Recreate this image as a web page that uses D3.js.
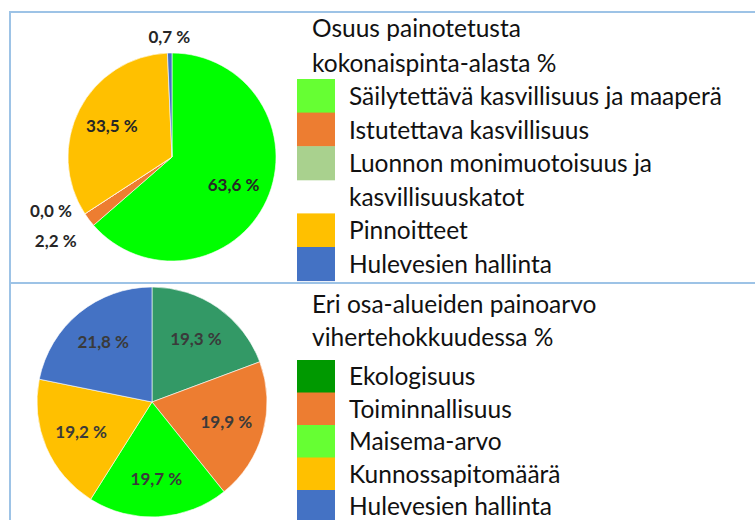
<!DOCTYPE html>
<html>
<head>
<meta charset="utf-8">
<script src="https://cdn.jsdelivr.net/npm/d3@7"></script>
<style>
  html, body { margin: 0; padding: 0; background: #fff; }
  svg { display: block; }
</style>
</head>
<body>
<svg id="chart" width="755" height="520"></svg>
<script>
// ---- Data ---------------------------------------------------------------
// Upper panel: share of the weighted total area (%)
const areaTitle = "Osuus painotetusta kokonaispinta-alasta %";
const areaCategories = [
  "Säilytettävä kasvillisuus ja maaperä",
  "Istutettava kasvillisuus",
  "Luonnon monimuotoisuus ja kasvillisuuskatot",
  "Pinnoitteet",
  "Hulevesien hallinta"
];
const areaValues = [63.6, 2.2, 0.0, 33.5, 0.7];
const areaSliceColors  = ["#00ff00", "#ed7d31", "#a9d18e", "#ffc000", "#4472c4"];
const areaLegendColors = ["#66ff33", "#ed7d31", "#a9d18e", "#ffc000", "#4472c4"];

// Lower panel: weight of each sub-area in the green factor (%)
const weightTitle = "Eri osa-alueiden painoarvo vihertehokkuudessa %";
const weightCategories = [
  "Ekologisuus",
  "Toiminnallisuus",
  "Maisema-arvo",
  "Kunnossapitomäärä",
  "Hulevesien hallinta"
];
const weightValues = [19.3, 19.9, 19.7, 19.2, 21.8];
const weightSliceColors  = ["#339966", "#ed7d31", "#00ff00", "#ffc000", "#4472c4"];
const weightLegendColors = ["#009900", "#ed7d31", "#66ff33", "#ffc000", "#4472c4"];

// ---- Helpers ------------------------------------------------------------
const fiLocale = d3.formatLocale({ decimal: ",", thousands: "\u00a0", grouping: [3], currency: ["", " €"] });
const pct = v => fiLocale.format(".1f")(v) + " %";

const svg = d3.select("#chart");
const FONT = "Lato, 'Open Sans', sans-serif";

// Table-like frame lines
const frameColor = "#9dc3e6";
const frame = svg.append("g").attr("stroke", frameColor).attr("stroke-width", 2);
frame.append("line").attr("x1", 9).attr("x2", 755).attr("y1", 12).attr("y2", 12);
frame.append("line").attr("x1", 10).attr("x2", 10).attr("y1", 11).attr("y2", 520);
frame.append("line").attr("x1", 9).attr("x2", 755).attr("y1", 283).attr("y2", 283);

// Split a string into lines that fit maxWidth at the given font size
function wrapText(text, fontSize, maxWidth) {
  const probe = svg.append("text").attr("font-family", FONT).attr("font-size", fontSize);
  const words = text.split(" ");
  const lines = [];
  let cur = "";
  words.forEach(w => {
    const trial = cur ? cur + " " + w : w;
    probe.text(trial);
    if (cur && probe.node().getComputedTextLength() > maxWidth) {
      lines.push(cur);
      cur = w;
    } else {
      cur = trial;
    }
  });
  if (cur) lines.push(cur);
  probe.remove();
  return lines;
}

function drawPie(cfg) {
  const g = svg.append("g").attr("transform", `translate(${cfg.cx},${cfg.cy})`);
  const pie = d3.pie().sort(null).value(d => d);
  const arcs = pie(cfg.values);
  const arc = d3.arc().innerRadius(0).outerRadius(cfg.r);
  const color = d3.scaleOrdinal().domain(d3.range(cfg.values.length)).range(cfg.colors);

  g.selectAll("path.slice")
    .data(arcs)
    .join("path")
    .attr("class", "slice")
    .attr("d", arc)
    .attr("fill", (d, i) => color(i))
    .attr("stroke", "#ffffff")
    .attr("stroke-width", 0.6);

  // Label placement: inside at a centroid ring, outside for thin slices
  const inner = d3.arc().innerRadius(cfg.r * cfg.labelRing).outerRadius(cfg.r * cfg.labelRing);
  const outer = d3.arc().innerRadius(cfg.r * 1.15).outerRadius(cfg.r * 1.15);
  const labels = arcs.map((d, i) => {
    const small = d.value < cfg.outsideBelow;
    const mid = (d.startAngle + d.endAngle) / 2;
    const [x, y] = (small ? outer : inner).centroid(d);
    let anchor = "middle";
    if (small && Math.abs(Math.sin(mid)) > 0.3) anchor = Math.sin(mid) < 0 ? "end" : "start";
    return { x, y, anchor, small, side: Math.sin(mid) < 0 ? -1 : 1, text: pct(d.value) };
  });

  // Spread overlapping outside labels vertically around their mean
  [-1, 1].forEach(side => {
    const grp = labels.filter(l => l.small && l.anchor !== "middle" && l.side === side)
      .sort((a, b) => a.y - b.y);
    for (let k = 1; k < grp.length; k++) {
      const a = grp[k - 1], b = grp[k];
      if (b.y - a.y < cfg.minGap) {
        const m = (a.y + b.y) / 2;
        a.y = m - cfg.minGap / 2;
        b.y = m + cfg.minGap / 2;
      }
    }
  });

  g.selectAll("text.lbl")
    .data(labels)
    .join("text")
    .attr("class", "lbl")
    .attr("x", d => d.x)
    .attr("y", d => d.y)
    .attr("dy", "0.35em")
    .attr("text-anchor", d => d.anchor)
    .attr("font-family", FONT)
    .attr("font-weight", "bold")
    .attr("font-size", cfg.labelSize)
    .attr("fill", cfg.labelColor)
    .text(d => d.text);
}

function drawLegend(cfg) {
  const g = svg.append("g");
  const titleLines = wrapText(cfg.title, cfg.fontSize, cfg.titleWidth);
  g.selectAll("text.title")
    .data(titleLines)
    .join("text")
    .attr("class", "title")
    .attr("x", cfg.titleX)
    .attr("y", (d, i) => cfg.titleY + i * cfg.titleStep)
    .attr("font-family", FONT)
    .attr("font-size", cfg.fontSize)
    .attr("fill", "#111")
    .text(d => d);

  // Expand each category into wrapped lines; first line carries the swatch
  const rows = [];
  cfg.categories.forEach((c, i) => {
    wrapText(c, cfg.fontSize, cfg.itemWidth).forEach((line, j) => {
      rows.push({ text: line, color: j === 0 ? cfg.colors[i] : null });
    });
  });
  const yLine = d3.scaleLinear().domain([0, 1]).range([cfg.firstY, cfg.firstY + cfg.step]);

  g.selectAll("rect.sw")
    .data(rows.map((r, k) => ({ ...r, k })).filter(r => r.color))
    .join("rect")
    .attr("class", "sw")
    .attr("x", cfg.swX)
    .attr("width", cfg.swW)
    .attr("y", d => yLine(d.k) - cfg.swAbove)
    .attr("height", cfg.step + 0.5)
    .attr("fill", d => d.color);

  g.selectAll("text.item")
    .data(rows)
    .join("text")
    .attr("class", "item")
    .attr("x", cfg.textX)
    .attr("y", (d, k) => yLine(k))
    .attr("font-family", FONT)
    .attr("font-size", cfg.fontSize)
    .attr("fill", "#111")
    .text(d => d.text);
}

// ---- Upper panel ----------------------------------------------------------
drawPie({
  cx: 172, cy: 157, r: 104,
  values: areaValues, colors: areaSliceColors,
  labelRing: 0.65, outsideBelow: 3, minGap: 30,
  labelSize: 17, labelColor: "#262626"
});
drawLegend({
  title: areaTitle, categories: areaCategories, colors: areaLegendColors,
  fontSize: 24.5, titleX: 312, titleY: 37, titleStep: 34.5, titleWidth: 340,
  textX: 349, itemWidth: 402, firstY: 105, step: 33.6,
  swX: 297, swW: 38, swAbove: 26
});

// ---- Lower panel ----------------------------------------------------------
drawPie({
  cx: 152, cy: 402, r: 115,
  values: weightValues, colors: weightSliceColors,
  labelRing: 0.67, outsideBelow: 3, minGap: 30,
  labelSize: 17, labelColor: "#3a3a3a"
});
drawLegend({
  title: weightTitle, categories: weightCategories, colors: weightLegendColors,
  fontSize: 24.5, titleX: 312, titleY: 313, titleStep: 32.5, titleWidth: 340,
  textX: 349, itemWidth: 402, firstY: 385, step: 32.5,
  swX: 297, swW: 38, swAbove: 25
});
</script>
</body>
</html>
